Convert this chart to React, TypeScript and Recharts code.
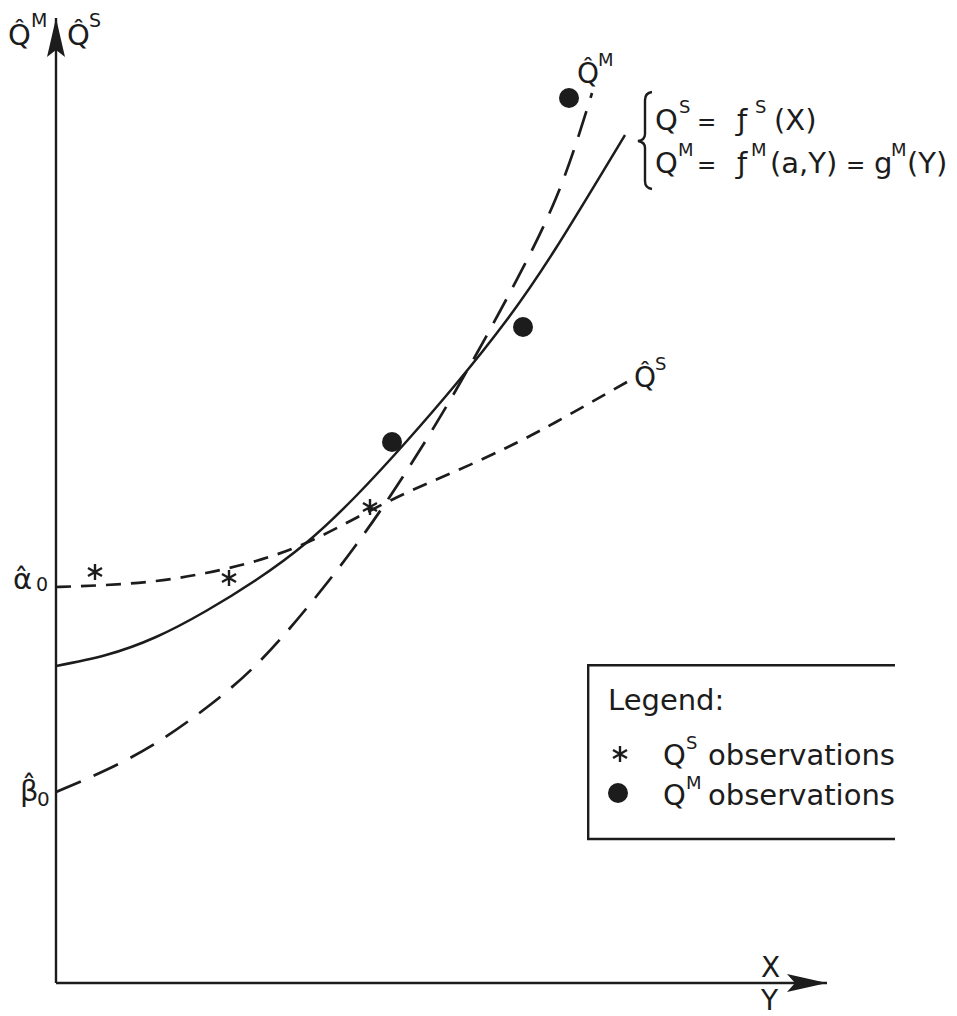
import React from 'react';
import {
  ComposedChart,
  Line,
  Scatter,
  XAxis,
  YAxis,
  ReferenceLine,
  ReferenceDot,
  Legend,
  Customized,
} from 'recharts';

// ---- data (units, origin at the axes' corner) ----
const solidX = [0, 50, 100, 150, 200, 250, 300, 350, 400, 450, 500, 569];
const solidY = [317, 328, 346, 372, 403, 440, 487, 541, 599, 662, 735, 848];

const qsHatX = [0, 50, 100, 150, 200, 250, 300, 350, 400, 450, 500, 571];
const qsHatY = [396, 398, 402, 410, 422, 440, 465, 490, 512, 535, 561, 601];

const qmHatX = [0, 50, 100, 150, 200, 250, 300, 350, 400, 450, 500, 536];
const qmHatY = [191, 213, 240, 275, 318, 374, 438, 511, 593, 683, 785, 890];

const qsObsX = [39, 173, 314];
const qsObsY = [411, 405, 476];

const qmObsX = [336, 467, 513];
const qmObsY = [541, 656, 885];

const X_MAX = 771;
const Y_MAX = 965;

const zip = (xs: number[], ys: number[]) => xs.map((x, i) => ({ x, y: ys[i] }));
const solidData = zip(solidX, solidY);
const qsHatData = zip(qsHatX, qsHatY);
const qmHatData = zip(qmHatX, qmHatY);
const qsObsData = zip(qsObsX, qsObsY);
const qmObsData = zip(qmObsX, qmObsY);

const INK = '#1c1c1c';
const FONT = '"DejaVu Sans", sans-serif';

const StarShape = (props: any) => {
  const { cx, cy } = props;
  return (
    <path
      d={`M${cx},${cy - 8} L${cx},${cy + 8} M${cx - 7},${cy - 4} L${cx + 7},${cy + 4} M${cx - 7},${cy + 4} L${cx + 7},${cy - 4}`}
      stroke={INK}
      strokeWidth={2.4}
      fill="none"
    />
  );
};

const DotShape = (props: any) => {
  const { cx, cy } = props;
  return <circle cx={cx} cy={cy} r={10} fill={INK} />;
};

const UpArrow = (props: any) => {
  const { cx, cy } = props;
  return (
    <path
      d={`M${cx},${cy} L${cx + 9},${cy + 39} L${cx},${cy + 32} L${cx - 9},${cy + 39} Z`}
      fill={INK}
    />
  );
};

const RightArrow = (props: any) => {
  const { cx, cy } = props;
  return (
    <path
      d={`M${cx},${cy} L${cx - 40},${cy - 9} L${cx - 32},${cy} L${cx - 40},${cy + 9} Z`}
      fill={INK}
    />
  );
};

const T = (p: any) => (
  <text fontFamily={FONT} fill={INK} fontSize={29} {...p}>
    {p.children}
  </text>
);

const Annotations = () => (
  <g>
    {/* top-left axis labels */}
    <T x={8} y={45}>{'Q\u0302'}</T>
    <T x={31} y={27} fontSize={19}>M</T>
    <T x={67} y={45}>{'Q\u0302'}</T>
    <T x={89} y={27} fontSize={19}>S</T>

    {/* intercept labels */}
    <T x={13} y={589}>{'\u03B1\u0302'}</T>
    <T x={36} y={591} fontSize={19}>0</T>
    <T x={20} y={801}>{'\u03B2\u0302'}</T>
    <T x={37} y={806} fontSize={20}>0</T>

    {/* axis names */}
    <T x={761} y={977} fontSize={28}>X</T>
    <T x={761} y={1010} fontSize={28}>Y</T>

    {/* curve labels */}
    <T x={577} y={83} fontSize={28}>{'Q\u0302'}</T>
    <T x={598} y={66} fontSize={18}>M</T>
    <T x={634} y={387} fontSize={28}>{'Q\u0302'}</T>
    <T x={655} y={370} fontSize={18}>S</T>

    {/* brace */}
    <path
      d="M652,92 Q645,93 645,100 L645,134 Q645,140 638,141 Q645,142 645,148 L645,181 Q645,188 652,189"
      stroke={INK}
      strokeWidth={2.4}
      fill="none"
    />

    {/* formula line 1 */}
    <T x={655} y={130}>Q</T>
    <T x={679} y={113} fontSize={18}>S</T>
    <T x={697} y={130} fontSize={23}>=</T>
    <T x={737} y={130}>{'\u0192'}</T>
    <T x={755} y={113} fontSize={18}>S</T>
    <T x={774} y={130}>(X)</T>

    {/* formula line 2 */}
    <T x={655} y={173}>Q</T>
    <T x={678} y={156} fontSize={18}>M</T>
    <T x={697} y={173} fontSize={23}>=</T>
    <T x={737} y={173}>{'\u0192'}</T>
    <T x={751} y={156} fontSize={18}>M</T>
    <T x={770} y={173}>(a,Y)</T>
    <T x={846} y={173} fontSize={23}>=</T>
    <T x={874} y={173}>g</T>
    <T x={891} y={156} fontSize={18}>M</T>
    <T x={907} y={173}>(Y)</T>
  </g>
);

const LegendBox = () => (
  <svg width={310} height={178} style={{ display: 'block' }}>
    <line x1={0} y1={1.2} x2={308} y2={1.2} stroke={INK} strokeWidth={2.4} />
    <line x1={1.2} y1={0} x2={1.2} y2={176} stroke={INK} strokeWidth={2.4} />
    <line x1={0} y1={175} x2={308} y2={175} stroke={INK} strokeWidth={2.4} />
    <T x={21} y={46}>Legend:</T>
    <StarShape cx={33} cy={90} />
    <T x={76} y={101}>Q</T>
    <T x={99} y={85} fontSize={18}>S</T>
    <T x={121} y={101} textLength={187} lengthAdjust="spacingAndGlyphs">observations</T>
    <DotShape cx={31} cy={129} />
    <T x={76} y={141}>Q</T>
    <T x={99} y={125} fontSize={18}>M</T>
    <T x={121} y={141} textLength={187} lengthAdjust="spacingAndGlyphs">observations</T>
  </svg>
);

export default function App() {
  return (
    <div style={{ position: 'absolute', left: 0, top: 0, width: 957, height: 1016, background: '#fff' }}>
      <ComposedChart
        width={957}
        height={1016}
        margin={{ top: 18, right: 130, bottom: 33, left: 56 }}
      >
        <XAxis type="number" dataKey="x" domain={[0, X_MAX]} hide allowDataOverflow />
        <YAxis type="number" dataKey="y" domain={[0, Y_MAX]} hide allowDataOverflow />

        <ReferenceLine x={0} stroke={INK} strokeWidth={2.4} />
        <ReferenceLine y={0} stroke={INK} strokeWidth={2.4} />
        <ReferenceDot x={0} y={Y_MAX} shape={UpArrow} />
        <ReferenceDot x={X_MAX} y={0} shape={RightArrow} />

        <Line
          data={solidData}
          dataKey="y"
          type="natural"
          stroke={INK}
          strokeWidth={2.5}
          dot={false}
          activeDot={false}
          isAnimationActive={false}
          name="fitted"
        />
        <Line
          data={qsHatData}
          dataKey="y"
          type="natural"
          stroke={INK}
          strokeWidth={2.7}
          strokeDasharray="15 10"
          dot={false}
          activeDot={false}
          isAnimationActive={false}
          name="QS hat"
        />
        <Line
          data={qmHatData}
          dataKey="y"
          type="natural"
          stroke={INK}
          strokeWidth={2.7}
          strokeDasharray="27 14"
          dot={false}
          activeDot={false}
          isAnimationActive={false}
          name="QM hat"
        />
        <Scatter data={qsObsData} dataKey="y" shape={StarShape} isAnimationActive={false} name="QS observations" />
        <Scatter data={qmObsData} dataKey="y" shape={DotShape} isAnimationActive={false} name="QM observations" />

        <Customized component={Annotations} />

        <Legend
          layout="vertical"
          align="center"
          verticalAlign="middle"
          content={() => <LegendBox />}
          wrapperStyle={{ position: 'absolute', left: 587, top: 664, width: 310, height: 178, margin: 0, padding: 0 }}
        />
      </ComposedChart>
    </div>
  );
}
